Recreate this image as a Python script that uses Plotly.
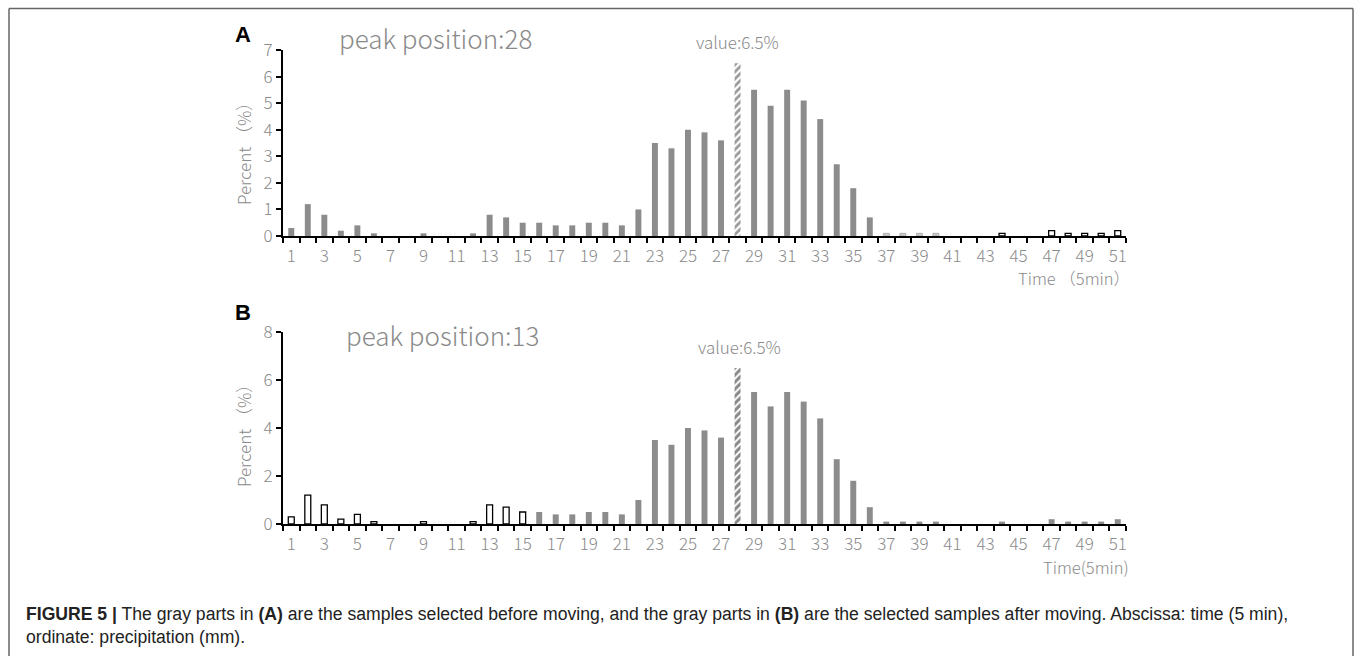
import plotly.graph_objects as go

W, H = 1355, 656

# ---- data ----
times = list(range(1, 52))
percent = [0.3, 1.2, 0.8, 0.2, 0.4, 0.1, 0, 0, 0.1, 0, 0, 0.1, 0.8, 0.7, 0.5,
           0.5, 0.4, 0.4, 0.5, 0.5, 0.4, 1.0, 3.5, 3.3, 4.0, 3.9, 3.6, 6.5,
           5.5, 4.9, 5.5, 5.1, 4.4, 2.7, 1.8, 0.7, 0.1, 0.1, 0.1, 0.1, 0, 0, 0,
           0.1, 0, 0, 0.2, 0.1, 0.1, 0.1, 0.2]
peak_time = 28
a_light = [37, 38, 39, 40]
a_hollow = [44, 45, 46, 47, 48, 49, 50, 51]
b_hollow = list(range(1, 16))
odd_ticks = list(range(1, 52, 2))
tick_labels = [str(t) for t in odd_ticks]

GRAY = "#8c8c8c"
TXT = "#8a8a8a"
FONT = "Noto Sans CJK SC"


def px(x):
    return x / W


def py(y):
    return 1 - y / H


fig = go.Figure()


def add_group(xs, xaxis, yaxis, **marker):
    xs = [t for t in xs if percent[t - 1] > 0]
    ys = [percent[t - 1] for t in xs]
    fig.add_trace(go.Bar(x=xs, y=ys, width=0.36, xaxis=xaxis, yaxis=yaxis,
                         marker=marker, showlegend=False, hoverinfo="x+y"))


# Panel A
a_gray = [t for t in times if t != peak_time and t not in a_light and t not in a_hollow]
add_group(a_gray, "x", "y", color=GRAY, line=dict(width=0))
add_group(a_light, "x", "y", color="#c9c9c9", line=dict(color="#b0b0b0", width=1))
add_group(a_hollow, "x", "y", color="white", line=dict(color="black", width=1.3))
add_group([peak_time], "x", "y", color="white", line=dict(width=0),
          pattern=dict(shape="/", fgcolor="#333", bgcolor="white", size=5, solidity=0.55))

# Panel B
b_gray = [t for t in times if t != peak_time and t not in b_hollow]
add_group(b_gray, "x2", "y2", color=GRAY, line=dict(width=0))
add_group(b_hollow, "x2", "y2", color="white", line=dict(color="black", width=1.3))
add_group([peak_time], "x2", "y2", color="white", line=dict(width=0),
          pattern=dict(shape="/", fgcolor="#111", bgcolor="white", size=5, solidity=0.6))

xdom = [px(283), px(1126)]
TICKFONT = dict(family=FONT, size=17, color=TXT, weight=300)


def xaxis_cfg(anchor):
    return dict(domain=xdom, anchor=anchor, range=[0.5, 51.5], tickmode="array",
                tickvals=odd_ticks, ticktext=tick_labels, ticks="outside",
                ticklen=4, tickcolor="rgba(0,0,0,0)", showline=True,
                linecolor="black", linewidth=2, showgrid=False, zeroline=False,
                automargin=False, tickfont=TICKFONT,
                minor=dict(tick0=0.5, dtick=1, ticks="outside", ticklen=5,
                           tickwidth=1.5, tickcolor="black", showgrid=False))


def yaxis_cfg(anchor, dom, rng, dt):
    return dict(domain=dom, anchor=anchor, range=rng, dtick=dt, ticks="outside",
                ticklen=5, tickwidth=1.5, tickcolor="black", showline=True,
                linecolor="black", linewidth=2, showgrid=False, zeroline=False,
                automargin=False, tickfont=TICKFONT)


fig.update_layout(
    width=W, height=H, margin=dict(l=0, r=0, t=0, b=0, pad=0, autoexpand=False),
    paper_bgcolor="white", plot_bgcolor="white", barmode="overlay",
    showlegend=False,
    xaxis=xaxis_cfg("y"),
    yaxis=yaxis_cfg("x", [py(236), py(50)], [0, 7], 1),
    xaxis2=xaxis_cfg("y2"),
    yaxis2=yaxis_cfg("x2", [py(524), py(332)], [0, 8], 2),
)

ann = []


def text(x, y, s, size, color=TXT, xanchor="center", family=FONT, angle=0, weight=300):
    ann.append(dict(x=px(x), y=py(y), xref="paper", yref="paper", text=s,
                    showarrow=False, xanchor=xanchor, yanchor="middle",
                    textangle=angle,
                    font=dict(family=family, size=size, color=color, weight=weight)))


text(243, 35, "<b>A</b>", 22, color="black", family="Liberation Sans", weight=400)
text(243, 312, "<b>B</b>", 22, color="black", family="Liberation Sans", weight=400)
text(435, 37, "peak position:28", 26)
text(442, 335, "peak position:13", 26)
text(737, 42, "value:6.5%", 17)
text(739, 346, "value:6.5%", 17)
text(243, 150, "Percent （%）", 17, angle=-90)
text(243, 432, "Percent （%）", 17, angle=-90)
text(1132, 278, "Time （5min）", 16.5, xanchor="right")
text(1131, 567, "Time(5min)", 16.5, xanchor="right")
ann.append(dict(x=px(24), y=py(625), xref="paper", yref="paper",
                text="<b>FIGURE 5 |</b> The gray parts in <b>(A)</b> are the samples selected before moving, "
                     "and the gray parts in <b>(B)</b> are the selected samples after moving. Abscissa: time (5 min),"
                     "<br>ordinate: precipitation (mm).",
                showarrow=False, xanchor="left", yanchor="middle", align="left",
                font=dict(family="Liberation Sans", size=17.6, color="#222")))
fig.update_layout(annotations=ann)

# frame around figure
lc = dict(color="#666", width=1.5)
fig.add_shape(type="line", xref="paper", yref="paper", x0=px(9), x1=px(1353), y0=py(8.5), y1=py(8.5), line=lc)
fig.add_shape(type="line", xref="paper", yref="paper", x0=px(9), x1=px(9), y0=py(8.5), y1=0, line=lc)
fig.add_shape(type="line", xref="paper", yref="paper", x0=px(1353), x1=px(1353), y0=py(8.5), y1=0, line=lc)

fig.write_html("out.html")
